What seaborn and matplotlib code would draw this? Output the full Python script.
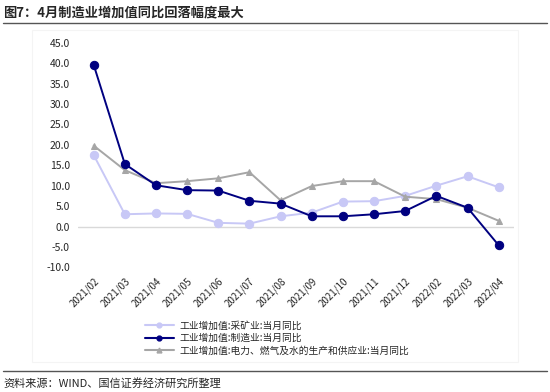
import pandas as pd
import seaborn as sns
import matplotlib.pyplot as plt
from matplotlib.lines import Line2D
from matplotlib.patches import Rectangle

# Data
months = ['2021/02', '2021/03', '2021/04', '2021/05', '2021/06', '2021/07', '2021/08',
          '2021/09', '2021/10', '2021/11', '2021/12', '2022/02', '2022/03', '2022/04']
mining = [17.5, 3.0, 3.2, 3.1, 0.9, 0.7, 2.5, 3.4, 6.1, 6.2, 7.5, 10.0, 12.3, 9.6]
manufacturing = [39.6, 15.3, 10.1, 8.9, 8.8, 6.3, 5.6, 2.5, 2.5, 3.0, 3.8, 7.5, 4.6, -4.6]
utilities = [19.8, 13.8, 10.6, 11.1, 11.8, 13.3, 6.4, 9.9, 11.1, 11.1, 7.3, 6.7, 4.6, 1.4]

names = ['工业增加值:采矿业:当月同比',
         '工业增加值:制造业:当月同比',
         '工业增加值:电力、燃气及水的生产和供应业:当月同比']
colors = ['#c8c8f6', '#000080', '#a6a6a6']
markers = ['o', 'o', '^']
msizes = [6, 6, 4.5]

sns.set_style('white')
plt.rcParams['font.family'] = ['Noto Sans CJK SC', 'DejaVu Sans']

fig = plt.figure(figsize=(5.5, 3.92), dpi=100)
ax = fig.add_axes([0.142, 0.318, 0.793, 0.573])

# faint frame around chart area
fig.patches.append(Rectangle((32 / 550, 1 - 362 / 392), 486 / 550, 332 / 392,
                             transform=fig.transFigure, fill=False,
                             edgecolor='#f4f4f4', linewidth=0.8))

x = list(range(len(months)))
ax.axhline(0, color='#d9d9d9', linewidth=1, zorder=1)
for vals, c, m, ms in zip([mining, manufacturing, utilities], colors, markers, msizes):
    sns.lineplot(x=x, y=vals, ax=ax, color=c, marker=m, markersize=ms,
                 markeredgecolor=c, linewidth=1.4, zorder=3 if c == '#000080' else 2)

ax.set_xlim(-0.5, len(months) - 0.5)
ax.set_ylim(-10, 45)
ax.set_yticks(range(-10, 50, 5))
ax.set_yticklabels([f'{v:.1f}' for v in range(-10, 50, 5)], fontsize=7.5)
ax.set_xticks(x)
ax.set_xticklabels(months, rotation=45, ha='right', rotation_mode='anchor', fontsize=7)
ax.tick_params(length=0, pad=6)
for s in ax.spines.values():
    s.set_visible(False)

handles = [Line2D([], [], color=c, marker=m, markersize=3.5, linewidth=1.5)
           for c, m in zip(colors, markers)]
fig.legend(handles, names, loc='upper left', bbox_to_anchor=(140 / 550, 1 - 316 / 392),
           frameon=False, fontsize=7, handlelength=3, labelspacing=0.25,
           handletextpad=0.6, borderpad=0)

# title and source
fig.text(3 / 550, 1 - 12 / 392, '图7：4月制造业增加值同比回落幅度最大', fontsize=9.5,
         fontweight='bold', va='center', ha='left')
fig.add_artist(Line2D([3 / 550, 547 / 550], [1 - 23 / 392, 1 - 23 / 392],
                      transform=fig.transFigure, color='#555555', linewidth=1))
fig.add_artist(Line2D([3 / 550, 547 / 550], [1 - 371 / 392, 1 - 371 / 392],
                      transform=fig.transFigure, color='#555555', linewidth=1))
fig.text(3 / 550, 1 - 383 / 392, '资料来源：WIND、国信证券经济研究所整理', fontsize=8,
         va='center', ha='left')

fig.savefig('out.png', dpi=100)
